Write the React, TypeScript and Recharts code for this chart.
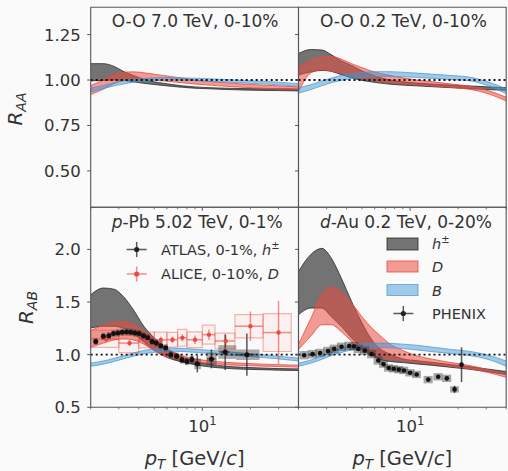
import React from "react";
import {
  ComposedChart,
  Area,
  Scatter,
  ErrorBar,
  XAxis,
  YAxis,
  ReferenceLine,
  ReferenceArea,
} from "recharts";

const FONT = "'DejaVu Sans', 'Liberation Sans', sans-serif";
const INK = "#333";
const FRAME = "#555";
const BG = "#fafafa";

const W = 508;
const H = 471;
const AXW = 30;
const AXH = 30;
// panel edges in page pixels
const COLS = [
  [90.7, 298.5],
  [298.5, 506.2],
];
const ROWS = [
  [7.3, 207.3],
  [207.3, 407.3],
];

const X_DOMAIN = [2, 40];
const X_TICKS = [2, 3, 4, 5, 6, 7, 8, 9, 10, 20, 30, 40];
const TOP_DOMAIN = [0.3, 1.4];
const TOP_TICKS = [0.5, 0.75, 1.0, 1.25];
const BOT_DOMAIN = [0.5, 2.4];
const BOT_TICKS = [0.5, 1.0, 1.5, 2.0];

const C_H = "#2b2b2b";
const C_D = "#eb4a40";
const C_B = "#4596d3";

// pT grid for the model bands
const ptGrid = [2, 2.4, 2.8, 3.2, 3.7, 4.3, 5, 5.7, 6.5, 7.5, 9, 11, 14, 18, 24, 30, 40];

// O-O 7.0 TeV
const oo7_h_lo = [0.995, 0.998, 1.0, 0.998, 0.99, 0.982, 0.975, 0.97, 0.965, 0.96, 0.955, 0.952, 0.948, 0.945, 0.943, 0.942, 0.94];
const oo7_h_hi = [1.09, 1.09, 1.075, 1.048, 1.025, 1.005, 0.99, 0.982, 0.975, 0.968, 0.962, 0.958, 0.955, 0.953, 0.952, 0.952, 0.95];
const oo7_d_lo = [0.92, 0.95, 0.98, 0.997, 1.003, 1.005, 1.0, 0.995, 0.99, 0.985, 0.978, 0.972, 0.966, 0.96, 0.955, 0.952, 0.948];
const oo7_d_hi = [0.97, 1.0, 1.03, 1.042, 1.045, 1.04, 1.032, 1.025, 1.018, 1.01, 1.0, 0.992, 0.985, 0.978, 0.972, 0.968, 0.962];
const oo7_b_lo = [0.935, 0.952, 0.968, 0.978, 0.988, 0.994, 0.998, 1.0, 1.0, 0.999, 0.997, 0.993, 0.989, 0.984, 0.979, 0.974, 0.966];
const oo7_b_hi = [0.955, 0.97, 0.985, 0.995, 1.003, 1.008, 1.012, 1.013, 1.013, 1.012, 1.01, 1.007, 1.003, 0.998, 0.993, 0.988, 0.98];

// O-O 0.2 TeV
const oo02_h_lo = [1.028, 1.045, 1.053, 1.048, 1.03, 1.012, 0.998, 0.99, 0.983, 0.977, 0.972, 0.968, 0.963, 0.958, 0.952, 0.948, 0.943];
const oo02_h_hi = [1.146, 1.168, 1.165, 1.14, 1.105, 1.08, 1.05, 1.03, 1.013, 1.0, 0.99, 0.983, 0.977, 0.972, 0.967, 0.963, 0.958];
const oo02_d_lo = [0.935, 1.04, 1.056, 1.05, 1.038, 1.025, 1.012, 1.0, 0.992, 0.986, 0.98, 0.975, 0.968, 0.96, 0.948, 0.928, 0.885];
const oo02_d_hi = [1.07, 1.108, 1.128, 1.13, 1.115, 1.09, 1.068, 1.05, 1.036, 1.025, 1.012, 1.0, 0.99, 0.978, 0.965, 0.945, 0.905];
const oo02_b_lo = [0.928, 0.948, 0.968, 0.985, 0.998, 1.008, 1.015, 1.018, 1.02, 1.02, 1.018, 1.014, 1.009, 1.003, 0.995, 0.972, 0.925];
const oo02_b_hi = [0.958, 0.975, 0.995, 1.01, 1.025, 1.035, 1.042, 1.045, 1.046, 1.046, 1.043, 1.038, 1.032, 1.025, 1.015, 0.993, 0.952];

// p-Pb 5.02 TeV
const ppb_h_lo = [1.253, 1.27, 1.27, 1.25, 1.2, 1.12, 1.04, 0.99, 0.955, 0.93, 0.905, 0.885, 0.87, 0.862, 0.857, 0.853, 0.85];
const ppb_h_hi = [1.569, 1.633, 1.622, 1.553, 1.427, 1.27, 1.16, 1.08, 1.02, 0.975, 0.935, 0.91, 0.89, 0.88, 0.873, 0.868, 0.865];
const ppb_d_lo = [1.07, 1.11, 1.14, 1.15, 1.14, 1.1, 1.04, 0.995, 0.965, 0.945, 0.93, 0.918, 0.905, 0.897, 0.891, 0.887, 0.882];
const ppb_d_hi = [1.23, 1.28, 1.31, 1.316, 1.29, 1.23, 1.15, 1.08, 1.03, 0.99, 0.96, 0.942, 0.927, 0.918, 0.91, 0.905, 0.9];
const ppb_b_lo = [0.89, 0.91, 0.935, 0.96, 0.985, 1.008, 1.022, 1.03, 1.032, 1.03, 1.022, 1.012, 1.0, 0.987, 0.973, 0.96, 0.94];
const ppb_b_hi = [0.92, 0.94, 0.965, 0.99, 1.015, 1.04, 1.055, 1.062, 1.063, 1.06, 1.052, 1.042, 1.03, 1.015, 1.0, 0.985, 0.968];

// d-Au 0.2 TeV
const dau_h_lo = [1.38, 1.443, 1.443, 1.363, 1.27, 1.158, 1.063, 1.0, 0.955, 0.935, 0.925, 0.912, 0.898, 0.88, 0.86, 0.84, 0.812];
const dau_h_hi = [1.79, 1.955, 2.01, 1.92, 1.73, 1.506, 1.3, 1.15, 1.055, 1.005, 0.96, 0.943, 0.925, 0.905, 0.885, 0.865, 0.84];
const dau_d_lo = [1.05, 1.18, 1.285, 1.285, 1.22, 1.126, 1.045, 1.0, 0.975, 0.96, 0.945, 0.93, 0.91, 0.89, 0.865, 0.835, 0.785];
const dau_d_hi = [1.1, 1.35, 1.575, 1.64, 1.6, 1.49, 1.36, 1.26, 1.18, 1.1, 1.04, 0.99, 0.955, 0.925, 0.895, 0.86, 0.81];
const dau_b_lo = [0.89, 0.92, 0.955, 0.99, 1.02, 1.045, 1.06, 1.065, 1.068, 1.065, 1.058, 1.045, 1.028, 1.01, 0.99, 0.96, 0.89];
const dau_b_hi = [0.92, 0.95, 0.99, 1.025, 1.06, 1.085, 1.1, 1.108, 1.11, 1.108, 1.1, 1.09, 1.07, 1.05, 1.03, 1.0, 0.94];

// ATLAS h+- p-Pb 0-1%
const atlasPt = [2.15, 2.4, 2.6, 2.78, 2.96, 3.15, 3.35, 3.56, 3.78, 4.02, 4.28, 4.55, 4.85, 5.15, 5.5, 5.9, 6.35, 6.9, 7.45, 8.0, 8.6, 9.3, 11.4, 13.9, 19.0];
const atlasR = [1.126, 1.174, 1.18, 1.2, 1.206, 1.212, 1.215, 1.212, 1.206, 1.2, 1.18, 1.16, 1.126, 1.11, 1.085, 1.065, 1.0, 0.984, 0.95, 0.936, 0.953, 0.912, 0.96, 1.025, 1.0];
const atlasStat = [0.012, 0.012, 0.012, 0.012, 0.012, 0.012, 0.012, 0.012, 0.012, 0.012, 0.012, 0.012, 0.012, 0.012, 0.012, 0.012, 0.015, 0.02, 0.025, 0.03, 0.04, 0.08, 0.09, 0.17, 0.2];
const atlasErrPt = [0, 0, 0, 0, 0, 0, 0, 0, 0, 0, 0, 0, 0, 0, 0, 0, 0, 0, 0, 0, 0, 0.4, 0.7, 0.9, 2.2];
const atlasSys = [0.035, 0.035, 0.035, 0.035, 0.035, 0.035, 0.035, 0.035, 0.035, 0.035, 0.035, 0.035, 0.035, 0.035, 0.035, 0.035, 0.035, 0.035, 0.035, 0.035, 0.035, 0.05, 0.06, 0.065, 0.05];
const atlasBoxLo = [2.09, 2.33, 2.52, 2.7, 2.87, 3.06, 3.25, 3.45, 3.67, 3.9, 4.15, 4.41, 4.7, 5.0, 5.33, 5.72, 6.16, 6.69, 7.23, 7.76, 8.34, 8.9, 10.6, 12.6, 16.3];
const atlasBoxHi = [2.21, 2.47, 2.68, 2.86, 3.05, 3.24, 3.45, 3.67, 3.89, 4.14, 4.41, 4.69, 5.0, 5.3, 5.67, 6.08, 6.54, 7.11, 7.67, 8.24, 8.86, 9.8, 12.3, 16.3, 22.8];

// ALICE D p-Pb 0-10%
const aliceBinLo = [2, 3, 4, 5, 6, 7, 8, 10, 12, 16, 24];
const aliceBinHi = [3, 4, 5, 6, 7, 8, 10, 12, 16, 24, 36];
const alicePt = [2.5, 3.5, 4.5, 5.5, 6.5, 7.5, 9, 11, 14, 20, 30];
const aliceR = [1.15, 1.11, 1.14, 1.14, 1.142, 1.16, 1.142, 1.19, 1.13, 1.27, 1.21];
const aliceStat = [0.03, 0.03, 0.03, 0.03, 0.03, 0.035, 0.04, 0.05, 0.055, 0.14, 0.3];
const aliceSys = [0.08, 0.09, 0.075, 0.075, 0.07, 0.08, 0.075, 0.09, 0.075, 0.11, 0.18];

// PHENIX d-Au 0-20%
const phenixPt = [2.17, 2.45, 2.73, 3.06, 3.35, 3.72, 4.15, 4.45, 4.74, 5.2, 5.75, 6.32, 6.82, 7.34, 7.9, 8.5, 9.15, 10.0, 11.0, 13.0, 15.0, 17.0, 19.0, 21.0];
const phenixR = [0.995, 1.005, 1.016, 1.035, 1.055, 1.075, 1.083, 1.08, 1.055, 1.038, 1.005, 0.945, 0.91, 0.874, 0.866, 0.858, 0.85, 0.828, 0.812, 0.763, 0.79, 0.775, 0.67, 0.905];
const phenixStat = [0.006, 0.006, 0.006, 0.006, 0.006, 0.006, 0.006, 0.006, 0.006, 0.006, 0.006, 0.006, 0.006, 0.006, 0.006, 0.006, 0.006, 0.006, 0.006, 0.012, 0.015, 0.018, 0.035, 0.165];
const phenixSys = [0.04, 0.04, 0.04, 0.04, 0.04, 0.04, 0.04, 0.04, 0.04, 0.04, 0.04, 0.04, 0.035, 0.035, 0.035, 0.035, 0.035, 0.035, 0.035, 0.035, 0.035, 0.035, 0.03, 0];
const phenixBoxLo = [2.03, 2.29, 2.55, 2.86, 3.13, 3.48, 3.88, 4.16, 4.43, 4.86, 5.38, 5.91, 6.38, 6.86, 7.38, 7.95, 8.55, 9.35, 10.3, 12.15, 14.0, 15.9, 17.8, 21.0];
const phenixBoxHi = [2.31, 2.61, 2.91, 3.26, 3.57, 3.96, 4.42, 4.74, 5.05, 5.54, 6.12, 6.73, 7.26, 7.82, 8.41, 9.05, 9.74, 10.65, 11.7, 13.85, 16.0, 18.1, 20.2, 21.0];

function bandRows(hl: number[], hh: number[], dl: number[], dh: number[], bl: number[], bh: number[]) {
  return ptGrid.map((x, i) => ({ x, h: [hl[i], hh[i]], d: [dl[i], dh[i]], b: [bl[i], bh[i]] }));
}

const oo7Rows = bandRows(oo7_h_lo, oo7_h_hi, oo7_d_lo, oo7_d_hi, oo7_b_lo, oo7_b_hi);
const oo02Rows = bandRows(oo02_h_lo, oo02_h_hi, oo02_d_lo, oo02_d_hi, oo02_b_lo, oo02_b_hi);
const ppbRows = bandRows(ppb_h_lo, ppb_h_hi, ppb_d_lo, ppb_d_hi, ppb_b_lo, ppb_b_hi);
const dauRows = bandRows(dau_h_lo, dau_h_hi, dau_d_lo, dau_d_hi, dau_b_lo, dau_b_hi);

const atlasPts = atlasPt.map((x, i) => ({ x, y: atlasR[i], ey: atlasStat[i], ex: atlasErrPt[i] }));
const alicePts = alicePt.map((x, i) => ({ x, y: aliceR[i], ey: aliceStat[i], ex: [x - aliceBinLo[i], aliceBinHi[i] - x] }));
const phenixPts = phenixPt.map((x, i) => ({ x, y: phenixR[i], ey: phenixStat[i], ex: 0 }));

function XTick({ x, y, payload, labels }: any) {
  const major = payload.value === 10;
  return (
    <g>
      <line x1={x} x2={x} y1={y} y2={y + (major ? 3.5 : 2)} stroke={FRAME} strokeWidth={major ? 1 : 0.8} />
      {labels && major && (
        <text x={x} y={y + 24.7} textAnchor="middle" fontSize={16.5} fill={INK} fontFamily={FONT}>
          10
          <tspan dy={-7} fontSize={11.5}>
            1
          </tspan>
        </text>
      )}
    </g>
  );
}

function YTick({ x, y, payload, labels, digits }: any) {
  return (
    <g>
      <line x1={x - 3.5} x2={x} y1={y} y2={y} stroke={FRAME} strokeWidth={1} />
      {labels && (
        <text x={x - 10} y={y + 6} textAnchor="end" fontSize={16.5} fill={INK} fontFamily={FONT}>
          {payload.value.toFixed(digits)}
        </text>
      )}
    </g>
  );
}

const dot = (color: string, r: number) => (p: any) => <circle cx={p.cx} cy={p.cy} r={r} fill={color} />;

function sysBoxes(id: string, lo: number[], hi: number[], ys: number[], sys: number[], style: any) {
  return ys
    .map((y, i) =>
      sys[i] > 0 ? (
        <ReferenceArea
          key={id + i}
          x1={lo[i]}
          x2={hi[i]}
          y1={y - sys[i]}
          y2={y + sys[i]}
          ifOverflow="visible"
          zIndex={550}
          {...style}
        />
      ) : null
    )
    .filter(Boolean);
}

function Panel({ col, row, data, extras }: { col: number; row: number; data: any[]; extras?: any[] }) {
  const [l, r] = COLS[col];
  const [t, b] = ROWS[row];
  const yDom = row === 0 ? TOP_DOMAIN : BOT_DOMAIN;
  const yTicks = row === 0 ? TOP_TICKS : BOT_TICKS;
  return (
    <div style={{ position: "absolute", left: 0, top: 0 }}>
      <ComposedChart
        width={W}
        height={H}
        data={data}
        margin={{ left: l - AXW, right: W - r, top: t, bottom: H - b - AXH }}
      >
        <XAxis
          dataKey="x"
          type="number"
          scale="log"
          domain={X_DOMAIN}
          allowDataOverflow
          ticks={X_TICKS}
          interval={0}
          height={AXH}
          axisLine={false}
          tickLine={false}
          tickSize={0}
          tickMargin={0}
          tick={<XTick labels={row === 1} />}
        />
        <YAxis
          type="number"
          domain={yDom}
          allowDataOverflow
          ticks={yTicks}
          interval={0}
          width={AXW}
          axisLine={false}
          tickLine={false}
          tickSize={0}
          tickMargin={0}
          tick={<YTick labels={col === 0} digits={row === 0 ? 2 : 1} />}
        />
        <Area dataKey="h" type="monotone" fill={C_H} fillOpacity={0.65} stroke={C_H} strokeOpacity={0.8} strokeWidth={1} isAnimationActive={false} />
        <Area dataKey="d" type="monotone" fill={C_D} fillOpacity={0.55} stroke={C_D} strokeOpacity={0.8} strokeWidth={1} isAnimationActive={false} />
        <Area dataKey="b" type="monotone" fill={C_B} fillOpacity={0.5} stroke={C_B} strokeOpacity={0.7} strokeWidth={1} isAnimationActive={false} />
        <ReferenceLine y={1} stroke="#111" strokeDasharray="2 3" strokeWidth={1.9} />
        {extras}
        <ReferenceArea x1={X_DOMAIN[0]} x2={X_DOMAIN[1]} y1={yDom[0]} y2={yDom[1]} fill="none" stroke={FRAME} strokeWidth={1.1} ifOverflow="visible" zIndex={900} />
      </ComposedChart>
    </div>
  );
}

const ppbExtras = [
  ...sysBoxes("asys", atlasBoxLo, atlasBoxHi, atlasR, atlasSys, { fill: "#333", fillOpacity: 0.4, stroke: "none" }),
  ...sysBoxes("dsys", aliceBinLo, aliceBinHi, aliceR, aliceSys, {
    fill: C_D,
    fillOpacity: 0.05,
    stroke: C_D,
    strokeOpacity: 0.4,
    strokeWidth: 1.2,
  }),
  <Scatter key="alice" data={alicePts} dataKey="y" isAnimationActive={false} shape={dot(C_D, 2.2)}>
    <ErrorBar dataKey="ey" direction="y" width={0} stroke={C_D} strokeOpacity={0.6} strokeWidth={1.5} />
    <ErrorBar dataKey="ex" direction="x" width={0} stroke={C_D} strokeOpacity={0.6} strokeWidth={1.5} />
  </Scatter>,
  <Scatter key="atlas" data={atlasPts} dataKey="y" isAnimationActive={false} shape={dot("#111", 2.5)}>
    <ErrorBar dataKey="ey" direction="y" width={0} stroke="#222" strokeOpacity={0.75} strokeWidth={1.5} />
    <ErrorBar dataKey="ex" direction="x" width={0} stroke="#222" strokeOpacity={0.75} strokeWidth={1.5} />
  </Scatter>,
];

const dauExtras = [
  ...sysBoxes("psys", phenixBoxLo, phenixBoxHi, phenixR, phenixSys, { fill: "#333", fillOpacity: 0.42, stroke: "none" }),
  <Scatter key="phenix" data={phenixPts} dataKey="y" isAnimationActive={false} shape={dot("#111", 2.3)}>
    <ErrorBar dataKey="ey" direction="y" width={0} stroke="#222" strokeOpacity={0.75} strokeWidth={1.5} />
  </Scatter>,
];

function Cross({ x, y, color, op }: { x: number; y: number; color: string; op: number }) {
  return (
    <g>
      <line x1={x - 10} x2={x + 10} y1={y} y2={y} stroke={color} strokeOpacity={op} strokeWidth={1.5} />
      <line x1={x} x2={x} y1={y - 7.5} y2={y + 7.5} stroke={color} strokeOpacity={op} strokeWidth={1.5} />
      <circle cx={x} cy={y} r={2.6} fill={color} />
    </g>
  );
}

function Overlay() {
  const txt = { fontFamily: FONT, fill: INK };
  return (
    <svg width={W} height={H} style={{ position: "absolute", left: 0, top: 0, pointerEvents: "none" }}>
      <g {...txt} fontSize={17}>
        <text x={111.7} y={26.7}>O-O 7.0 TeV, 0-10%</text>
        <text x={320} y={26.7}>O-O 0.2 TeV, 0-10%</text>
        <text x={111.7} y={228}>
          <tspan fontStyle="italic">p</tspan>-Pb 5.02 TeV, 0-1%
        </text>
        <text x={320} y={228}>
          <tspan fontStyle="italic">d</tspan>-Au 0.2 TeV, 0-20%
        </text>
      </g>
      <g {...txt} fontSize={20}>
        <text transform="translate(22,109) rotate(-90)" textAnchor="middle">
          <tspan fontStyle="italic">R</tspan>
          <tspan fontStyle="italic" fontSize={14} dy={4}>
            AA
          </tspan>
        </text>
        <text transform="translate(33,307.5) rotate(-90)" textAnchor="middle">
          <tspan fontStyle="italic">R</tspan>
          <tspan fontStyle="italic" fontSize={14} dy={4}>
            AB
          </tspan>
        </text>
      </g>
      <g {...txt} fontSize={19.5}>
        {[194.6, 402.3].map((cx) => (
          <text key={cx} x={cx} y={465} textAnchor="middle">
            <tspan fontStyle="italic">p</tspan>
            <tspan fontStyle="italic" fontSize={13.5} dy={4}>
              T
            </tspan>
            <tspan dy={-4}> [GeV/</tspan>
            <tspan fontStyle="italic">c</tspan>
            <tspan>]</tspan>
          </text>
        ))}
      </g>

      {/* p-Pb legend */}
      <Cross x={136.7} y={249.5} color="#222" op={0.75} />
      <Cross x={136.7} y={274} color={C_D} op={0.6} />
      <g {...txt} fontSize={14.5}>
        <text x={161} y={254.5}>
          ATLAS, 0-1%, <tspan fontStyle="italic">h</tspan>
          <tspan fontSize={10} dy={-6}>
            ±
          </tspan>
        </text>
        <text x={161} y={279}>
          ALICE, 0-10%, <tspan fontStyle="italic">D</tspan>
        </text>
      </g>

      {/* d-Au legend */}
      <rect x={387} y={238} width={31} height={12} fill={C_H} fillOpacity={0.65} stroke={C_H} strokeOpacity={0.8} />
      <rect x={387} y={261} width={31} height={11} fill={C_D} fillOpacity={0.55} stroke={C_D} strokeOpacity={0.8} />
      <rect x={387} y={284.5} width={31} height={11} fill={C_B} fillOpacity={0.5} stroke={C_B} strokeOpacity={0.7} />
      <Cross x={403.3} y={313.5} color="#222" op={0.75} />
      <g {...txt} fontSize={14.5}>
        <text x={432} y={249}>
          <tspan fontStyle="italic">h</tspan>
          <tspan fontSize={10} dy={-6}>
            ±
          </tspan>
        </text>
        <text x={432} y={271.5} fontStyle="italic">
          D
        </text>
        <text x={432} y={295.5} fontStyle="italic">
          B
        </text>
        <text x={432} y={318.5}>
          PHENIX
        </text>
      </g>
    </svg>
  );
}

export default function App() {
  return (
    <div style={{ position: "absolute", left: 0, top: 0, width: W, height: H, background: BG, overflow: "hidden" }}>
      <Panel col={0} row={0} data={oo7Rows} />
      <Panel col={1} row={0} data={oo02Rows} />
      <Panel col={0} row={1} data={ppbRows} extras={ppbExtras} />
      <Panel col={1} row={1} data={dauRows} extras={dauExtras} />
      <Overlay />
    </div>
  );
}
